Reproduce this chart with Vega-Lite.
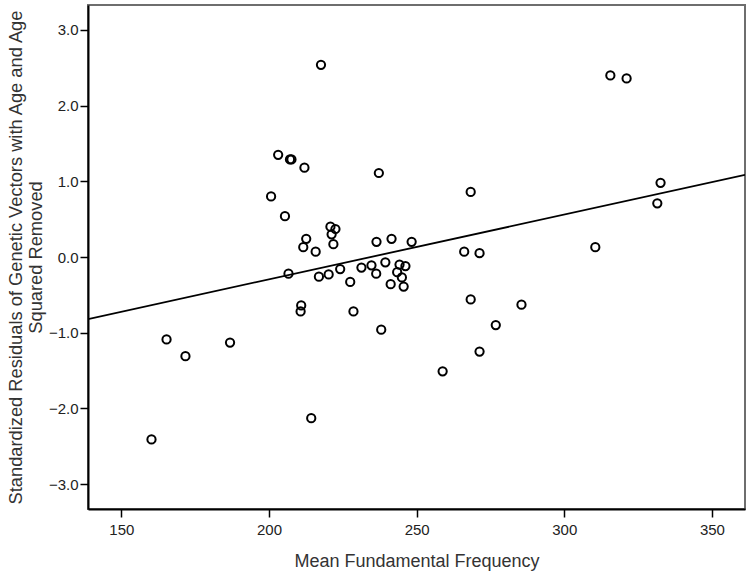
{
  "$schema": "https://vega.github.io/schema/vega-lite/v6.json",
  "width": 657,
  "height": 504,
  "autosize": {"type": "none"},
  "padding": {"left": 88, "top": 5, "right": 6, "bottom": 65},
  "background": "white",
  "config": {
    "view": {"stroke": "#6e6e6e", "strokeWidth": 2},
    "font": "Liberation Sans"
  },
  "datasets": {
    "pts": [
      {"f0": 217.6, "res": 2.54}, {"f0": 203.1, "res": 1.35}, {"f0": 207.1, "res": 1.29},
      {"f0": 207.6, "res": 1.29}, {"f0": 212.0, "res": 1.18}, {"f0": 200.7, "res": 0.80},
      {"f0": 205.4, "res": 0.54}, {"f0": 220.8, "res": 0.40}, {"f0": 222.5, "res": 0.37},
      {"f0": 221.2, "res": 0.30}, {"f0": 221.8, "res": 0.17}, {"f0": 212.6, "res": 0.24},
      {"f0": 211.6, "res": 0.13}, {"f0": 215.8, "res": 0.07}, {"f0": 236.4, "res": 0.20},
      {"f0": 237.2, "res": 1.11}, {"f0": 206.6, "res": -0.22}, {"f0": 216.9, "res": -0.26},
      {"f0": 220.2, "res": -0.23}, {"f0": 224.1, "res": -0.16}, {"f0": 227.5, "res": -0.33},
      {"f0": 231.3, "res": -0.14}, {"f0": 234.7, "res": -0.11}, {"f0": 236.3, "res": -0.22},
      {"f0": 241.5, "res": 0.24}, {"f0": 248.3, "res": 0.20}, {"f0": 239.4, "res": -0.07},
      {"f0": 244.2, "res": -0.10}, {"f0": 246.2, "res": -0.12}, {"f0": 243.4, "res": -0.20},
      {"f0": 245.0, "res": -0.27}, {"f0": 241.2, "res": -0.36}, {"f0": 245.6, "res": -0.39},
      {"f0": 228.6, "res": -0.72}, {"f0": 210.9, "res": -0.64}, {"f0": 210.7, "res": -0.72},
      {"f0": 165.3, "res": -1.09}, {"f0": 171.7, "res": -1.31}, {"f0": 186.8, "res": -1.13},
      {"f0": 160.2, "res": -2.41}, {"f0": 214.3, "res": -2.13}, {"f0": 238.0, "res": -0.96},
      {"f0": 268.3, "res": 0.86}, {"f0": 266.1, "res": 0.07}, {"f0": 271.3, "res": 0.05},
      {"f0": 310.5, "res": 0.13}, {"f0": 268.3, "res": -0.56}, {"f0": 285.5, "res": -0.63},
      {"f0": 276.8, "res": -0.90}, {"f0": 271.3, "res": -1.25}, {"f0": 258.8, "res": -1.51},
      {"f0": 315.6, "res": 2.40}, {"f0": 321.1, "res": 2.36}, {"f0": 332.6, "res": 0.98},
      {"f0": 331.5, "res": 0.71}
    ],
    "fit": [
      {"f0": 138.7, "res": -0.82},
      {"f0": 361.2, "res": 1.085}
    ]
  },
  "encoding": {
    "x": {
      "field": "f0", "type": "quantitative",
      "scale": {"domain": [138.7, 361.2], "nice": false, "zero": false},
      "axis": {
        "title": "Mean Fundamental Frequency",
        "values": [150, 200, 250, 300, 350],
        "grid": false,
        "domainColor": "#000", "domainWidth": 2,
        "tickColor": "#000", "tickWidth": 1.5, "tickSize": 8,
        "labelFontSize": 15, "labelColor": "#222", "labelPadding": 5,
        "titleFontSize": 18, "titleFontWeight": "normal", "titleColor": "#333",
        "titleBaseline": "alphabetic", "titleY": 57
      }
    },
    "y": {
      "field": "res", "type": "quantitative",
      "scale": {"domain": [-3.33, 3.33], "nice": false, "zero": false},
      "axis": {
        "title": ["Standardized Residuals of Genetic Vectors with Age and Age", "Squared Removed"],
        "values": [-3, -2, -1, 0, 1, 2, 3],
        "format": ".1f",
        "grid": false,
        "domainColor": "#000", "domainWidth": 2,
        "tickColor": "#000", "tickWidth": 1.5, "tickSize": 8,
        "labelFontSize": 15, "labelColor": "#222", "labelPadding": 2,
        "titleFontSize": 18.3, "titleFontWeight": "normal", "titleColor": "#333",
        "titleAngle": -90, "titleAlign": "center", "titleBaseline": "alphabetic",
        "titleLineHeight": 20, "titleX": -67, "titleY": 252
      }
    }
  },
  "layer": [
    {
      "data": {"name": "fit"},
      "mark": {"type": "line", "color": "#000", "strokeWidth": 1.8, "clip": true}
    },
    {
      "data": {"name": "pts"},
      "mark": {"type": "point", "shape": "circle", "filled": false, "color": "#000", "strokeWidth": 2, "size": 68, "opacity": 1}
    }
  ]
}
